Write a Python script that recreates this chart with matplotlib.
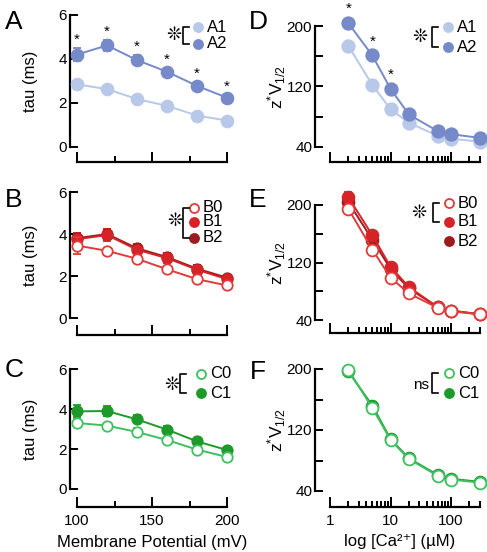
import numpy as np
import matplotlib
matplotlib.use("Agg")
import matplotlib.pyplot as plt
from matplotlib.lines import Line2D
from matplotlib.ticker import FixedLocator, LogLocator, NullFormatter

plt.rcParams['font.family'] = ['Liberation Sans', 'DejaVu Sans']
plt.rcParams['mathtext.fontset'] = 'custom'
plt.rcParams['mathtext.rm'] = 'Liberation Sans'
plt.rcParams['mathtext.it'] = 'Liberation Sans'

W, H = 487, 552

# membrane potential (mV) and calcium (uM)
vm = [100, 120, 140, 160, 180, 200]
ca = [2, 5, 10, 20, 60, 100, 300]

# tau (ms) values, panels A-C
tau_A1 = [2.85, 2.63, 2.18, 1.87, 1.43, 1.2]
err_A1 = [0.12, 0.08, 0.07, 0.06, 0.05, 0.05]
tau_A2 = [4.2, 4.62, 3.95, 3.42, 2.78, 2.24]
err_A2 = [0.3, 0.25, 0.22, 0.15, 0.15, 0.1]

tau_B0 = [3.45, 3.2, 2.82, 2.32, 1.85, 1.55]
err_B0 = [0.4, 0.1, 0.1, 0.12, 0.1, 0.08]
tau_B1 = [3.75, 3.95, 3.25, 2.85, 2.3, 1.85]
err_B1 = [0.3, 0.3, 0.25, 0.25, 0.2, 0.12]
tau_B2 = [3.8, 4.0, 3.32, 2.9, 2.35, 1.92]
err_B2 = [0.25, 0.25, 0.2, 0.2, 0.18, 0.1]

tau_C0 = [3.3, 3.17, 2.85, 2.45, 1.97, 1.6]
err_C0 = [0.2, 0.15, 0.2, 0.12, 0.1, 0.08]
tau_C1 = [3.88, 3.9, 3.48, 2.97, 2.38, 1.95]
err_C1 = [0.3, 0.25, 0.2, 0.18, 0.12, 0.1]

# z*V1/2 values, panels D-F
zv_A1 = [174, 122, 90, 72, 55, 51, 47]
zv_A2 = [204, 161, 117, 83, 61, 57, 52]
zv_B0 = [195, 138, 99, 77, 57, 52, 48]
zv_B1 = [211, 158, 114, 86, 58, 53, 48]
zv_B2 = [204, 152, 111, 84, 58, 53, 48]
err_zB1 = [7, 3, 3, 2, 2, 1, 1]
zv_C0 = [199, 149, 107, 82, 60, 55, 51]
zv_C1 = [197, 152, 108, 83, 61, 56, 52]

star_A = [True] * 6
star_D = [True, True, True, False, False, False, False]

c_A1, c_A2 = '#b7c8e8', '#7689c8'
c_B0, c_B1, c_B2 = '#e23a3a', '#d62328', '#9b1b1f'
c_C0, c_C1 = '#3ec060', '#1e9a2a'

fig = plt.figure(figsize=(W / 100, H / 100), dpi=100)


def px_axes(left, top, right, bottom):
    return fig.add_axes([left / W, 1 - bottom / H, (right - left) / W, (bottom - top) / H])


def pt(px):
    return px * 0.72


def fpx(x, y):
    return x / W, 1 - y / H


def style(ax, yoff, xoff):
    for s in ['top', 'right']:
        ax.spines[s].set_visible(False)
    ax.spines['left'].set_position(('outward', pt(yoff)))
    ax.spines['bottom'].set_position(('outward', pt(xoff)))
    for s in ['left', 'bottom']:
        ax.spines[s].set_linewidth(1.6)
    ax.tick_params(which='both', direction='in', width=1.4, labelsize=11, pad=2)
    ax.tick_params(axis='y', which='major', length=6)
    ax.tick_params(axis='x', which='major', length=7)
    ax.tick_params(axis='x', which='minor', length=4)


def series(ax, x, y, e, color, open_=False, ms=7.5, z=3):
    ax.errorbar(x, y, yerr=e, color=color, lw=1.4, marker='o', ms=ms,
                mfc='white' if open_ else color, mec=color, mew=1.3,
                capsize=3, elinewidth=1, capthick=1, clip_on=False, zorder=z)


def legend(items, sym, bracket_n, xm, ys, xb, sx, sy):
    for (lab, color, open_), y in zip(items, ys):
        fig.add_artist(Line2D([xm / W], [1 - y / H], marker='o', ms=6.5,
                              mfc='white' if open_ else color, mec=color, mew=1.3,
                              transform=fig.transFigure))
        fig.text(*fpx(xm + 9, y), lab, fontsize=12, va='center', ha='left')
    y0, y1 = ys[0], ys[bracket_n - 1]
    bx = [xb + 6, xb, xb, xb + 6]
    by = [y0, y0, y1, y1]
    fig.add_artist(Line2D([v / W for v in bx], [1 - v / H for v in by], color='black',
                          lw=1.2, transform=fig.transFigure))
    fig.text(*fpx(sx, sy), sym, fontsize=11 if sym == 'ns' else 13,
             ha='center', va='center')


# ---------- left column ----------
left_boxes = [(77, 15, 227, 147, 7, 15), (77, 192, 227, 318, 7, 17), (77, 369, 227, 489, 7, 18)]
axL = []
for (l, t, r, b, yo, xo) in left_boxes:
    ax = px_axes(l, t, r, b)
    style(ax, yo, xo)
    ax.set_xlim(100, 200)
    ax.set_ylim(0, 6)
    ax.set_yticks([0, 2, 4, 6])
    ax.xaxis.set_major_locator(FixedLocator([100, 150, 200]))
    ax.xaxis.set_minor_locator(FixedLocator([125, 175]))
    ax.set_ylabel('tau (ms)', fontsize=12)
    ax.yaxis.set_label_coords(38 / W, 1 - (t + b) / 2 / H, transform=fig.transFigure)
    ax.set_xticklabels([])
    axL.append(ax)

ax = axL[0]
series(ax, vm, tau_A1, err_A1, c_A1, ms=8.5)
series(ax, vm, tau_A2, err_A2, c_A2, ms=8.5, z=4)
for x, y, e, s in zip(vm, tau_A2, err_A2, star_A):
    if s:
        ax.annotate('*', (x, y + e), xytext=(0, 1), textcoords='offset points',
                    ha='center', va='bottom', fontsize=11, annotation_clip=False)

ax = axL[1]
series(ax, vm, tau_B2, err_B2, c_B2)
series(ax, vm, tau_B1, err_B1, c_B1)
series(ax, vm, tau_B0, err_B0, c_B0, open_=True, z=4)

ax = axL[2]
series(ax, vm, tau_C1, err_C1, c_C1)
series(ax, vm, tau_C0, err_C0, c_C0, open_=True, z=4)
ax.set_xticklabels(['100', '150', '200'])
ax.tick_params(axis='x', pad=5)
ax.set_xlabel('Membrane Potential (mV)', fontsize=12)
ax.xaxis.set_label_coords(152 / W, 1 - 535 / H, transform=fig.transFigure)

# ---------- right column ----------
right_boxes = [(330, 26, 480, 147, 15, 15), (330, 205, 480, 320, 15, 13), (330, 369, 480, 491, 15, 16)]
axR = []
for (l, t, r, b, yo, xo) in right_boxes:
    ax = px_axes(l, t, r, b)
    style(ax, yo, xo)
    ax.set_xscale('log')
    ax.set_xlim(1, 300)
    ax.set_ylim(40, 200)
    ax.set_yticks([40, 80, 120, 160, 200])
    ax.set_yticklabels(['40', '', '120', '', '200'])
    ax.xaxis.set_major_locator(FixedLocator([1, 10, 100]))
    ax.xaxis.set_minor_locator(LogLocator(base=10, subs=np.arange(2, 10)))
    ax.xaxis.set_minor_formatter(NullFormatter())
    ax.set_xticklabels([])
    ax.set_ylabel(r'z$^{*}$V$_{1/2}$', fontsize=12.5)
    ax.yaxis.set_label_coords(288 / W, 1 - (t + b) / 2 / H, transform=fig.transFigure)
    axR.append(ax)

ax = axR[0]
series(ax, ca, zv_A1, None, c_A1, ms=9)
series(ax, ca, zv_A2, None, c_A2, ms=9, z=4)
for x, y, s in zip(ca, zv_A2, star_D):
    if s:
        ax.annotate('*', (x, y), xytext=(0, 5), textcoords='offset points',
                    ha='center', va='bottom', fontsize=11, annotation_clip=False)

ax = axR[1]
series(ax, ca, zv_B2, None, c_B2, ms=8.5)
series(ax, ca, zv_B1, err_zB1, c_B1, ms=8.5)
series(ax, ca, zv_B0, None, c_B0, open_=True, ms=8.5, z=4)

ax = axR[2]
series(ax, ca, zv_C1, None, c_C1, ms=8.5)
series(ax, ca, zv_C0, None, c_C0, open_=True, ms=8.5, z=4)
ax.set_xticklabels(['1', '10', '100'])
ax.tick_params(axis='x', pad=5)
ax.set_xlabel('log [Ca\u00b2\u207a] (\u00b5M)', fontsize=12)
ax.xaxis.set_label_coords(400 / W, 1 - 534 / H, transform=fig.transFigure)

# ---------- legends ----------
star = '\u274a'
legend([('A1', c_A1, False), ('A2', c_A2, False)], star, 2, 198, [27, 44], 183, 174, 36)
legend([('B0', c_B0, True), ('B1', c_B1, False), ('B2', c_B2, False)], star, 3,
       194, [208, 222, 238], 183, 175, 222)
legend([('C0', c_C0, True), ('C1', c_C1, False)], star, 2, 201, [374, 393], 180, 172, 385)
legend([('A1', c_A1, False), ('A2', c_A2, False)], star, 2, 448, [27, 47], 432, 420, 38)
legend([('B0', c_B0, True), ('B1', c_B1, False), ('B2', c_B2, False)], star, 2,
       449, [203, 222, 241], 433, 419, 214)
legend([('C0', c_C0, True), ('C1', c_C1, False)], 'ns', 2, 449, [373, 393], 432, 421, 385)

# ---------- panel letters ----------
for lab, x, y in [('A', 14, 22), ('B', 14, 200), ('C', 14, 370),
                  ('D', 258, 22), ('E', 258, 200), ('F', 258, 372)]:
    fig.text(*fpx(x, y), lab, fontsize=19, ha='center', va='center')

fig.savefig('out.png', dpi=100)
